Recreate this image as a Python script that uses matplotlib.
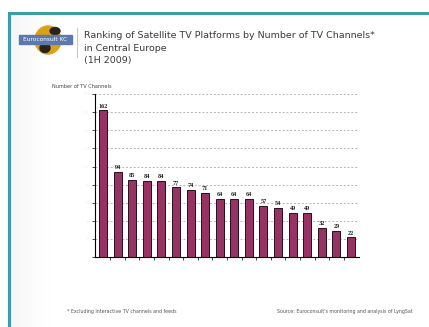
import numpy as np
import matplotlib
matplotlib.use("Agg")
import matplotlib.pyplot as plt
from matplotlib.patches import Ellipse, Rectangle
from matplotlib.lines import Line2D

# channel counts per satellite platform, ranked
platforms = [f"P{i}" for i in range(1, 19)]
channels = [162, 94, 85, 84, 84, 77, 74, 71, 64, 64, 64, 57, 54, 49, 49, 32, 29, 22]
y_ticks = [0, 20, 40, 60, 80, 100, 120, 140, 160, 180]

title_lines = ["Ranking of Satellite TV Platforms by Number of TV Channels*",
               "in Central Europe",
               "(1H 2009)"]
y_label = "Number of TV Channels"
footnote = "* Excluding interactive TV channels and feeds"
source = "Source: Euroconsult's monitoring and analysis of LyngSat"

W, H = 429, 327
fig = plt.figure(figsize=(W / 100, H / 100), dpi=100)
fig.patch.set_facecolor("white")

def fx(px): return px / W
def fy(py): return 1 - py / H

# left sidebar shading
side = fig.add_axes([fx(10), 0, fx(45), fy(14)], zorder=0)
grad = np.linspace(1, 0, 200)[None, :] ** 1.5
side.imshow(grad, aspect="auto", cmap="Greys", vmin=0, vmax=12,
            extent=[0, 1, 0, 1])
side.axis("off")

# teal slide frame
teal = "#3b9ea6"
fig.add_artist(Line2D([fx(9), 1], [fy(13), fy(13)], color=teal, lw=2.2))
fig.add_artist(Line2D([fx(9), fx(9)], [0, fy(13)], color=teal, lw=2.2))

# logo
logo = fig.add_axes([fx(18), fy(57), fx(56), fy(24) - fy(57)], zorder=2)
logo.set_xlim(0, 56); logo.set_ylim(0, 33); logo.axis("off")
logo.add_patch(Ellipse((30, 17), 26, 28, color="#d9a21a"))
logo.add_patch(Ellipse((27, 9), 10, 9, color="#2a2418"))
logo.add_patch(Ellipse((37, 26), 10, 7, color="#2a2418"))
logo.add_patch(Rectangle((1, 13), 53, 9, color="#5b79ad"))
logo.text(27, 17.5, "Euroconsult KC", color="white", fontsize=4.2,
          ha="center", va="center")
fig.add_artist(Line2D([fx(77), fx(77)], [fy(57), fy(28)], color="#c8c8c8", lw=0.8))

# title block
for i, line in enumerate(title_lines):
    fig.text(fx(84), fy(36 + 12.5 * i), line, fontsize=6.8, color="#3a3a3a",
             family="DejaVu Sans", va="center", ha="left")

fig.text(fx(52), fy(86), y_label, fontsize=3.6, color="#444444", va="center")

# bar chart
ax = fig.add_axes([fx(95), fy(257.3), fx(359) - fx(95), fy(94) - fy(257.3)], zorder=3)
ax.patch.set_alpha(0)
x = np.arange(len(channels))
bars = ax.bar(x, channels, width=0.55, color="#963363", edgecolor="#2a0d1c", lw=0.7)
for xi, v in zip(x, channels):
    ax.text(xi, v + 2, str(v), ha="center", va="bottom", fontsize=4.5,
            family="Liberation Serif", fontweight="bold", color="#222222")

ax.set_xlim(-0.55, len(channels) - 0.45)
ax.set_ylim(0, 180)
ax.set_yticks(y_ticks)
ax.set_yticklabels([str(t) for t in y_ticks], fontsize=3, color="#f2f2f2")
ax.yaxis.grid(True, linestyle=(0, (2.5, 2.5)), color="#a0a0a0", lw=0.55)
ax.set_axisbelow(True)
ax.set_xticks(x[:-1] + 0.5)
ax.set_xticklabels([])
ax.tick_params(axis="x", length=2, width=0.5, direction="out")
ax.tick_params(axis="y", length=2, width=0.5, direction="out", pad=1)
for s in ["top", "right"]:
    ax.spines[s].set_visible(False)
for s in ["left", "bottom"]:
    ax.spines[s].set_linewidth(0.8)

# footer notes
fig.text(fx(67), fy(312), footnote, fontsize=3.4, color="#555555", va="center")
fig.text(fx(413), fy(312), source, fontsize=3.4, color="#555555", va="center", ha="right")

fig.savefig("out.png", dpi=100)
